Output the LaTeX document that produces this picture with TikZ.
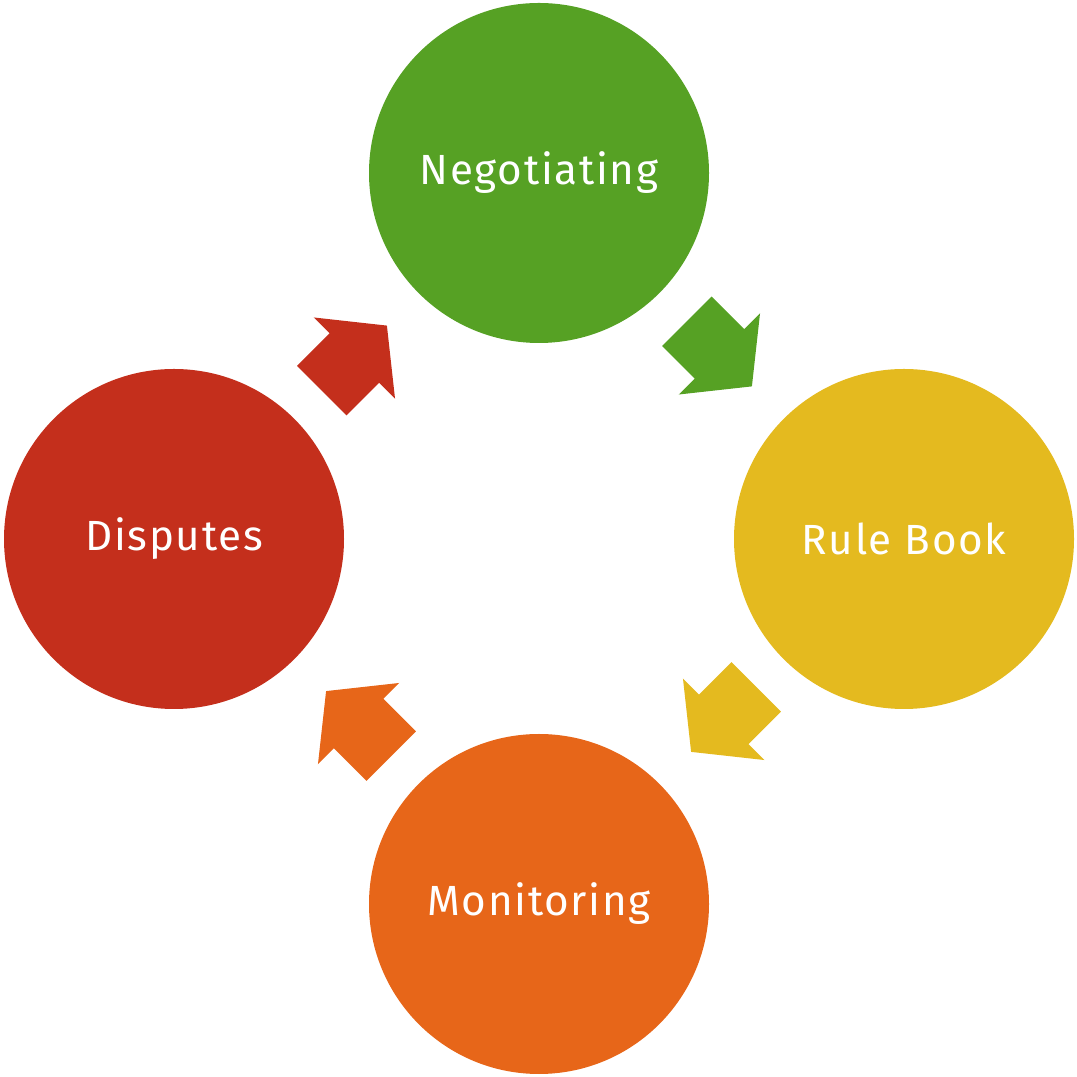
\documentclass[tikz,border=0pt]{standalone}
\usepackage{fontspec}
\setmainfont{Fira Sans}[LetterSpace=4]
\usepackage{tikz}
\usetikzlibrary{calc}

\definecolor{neggreen}{RGB}{86,161,36}
\definecolor{ruleyellow}{RGB}{228,186,31}
\definecolor{monorange}{RGB}{231,102,25}
\definecolor{disred}{RGB}{196,47,28}

% block arrow half way between two stages
\newcommand{\cyclearrow}[4]{%
   \fill[#1, shift={($(#2)!0.5!(#3)$)}, rotate=#4]
      (-0.49,-0.35) -- (-0.03,-0.35) -- (-0.03,-0.575) -- (0.43,0)
      -- (-0.03,0.575) -- (-0.03,0.35) -- (-0.49,0.35) -- cycle;}

\begin{document}
\begin{tikzpicture}[
   stage/.style={circle, minimum size=3.4cm, inner sep=0pt, text=white,
      font=\fontsize{12}{14}\selectfont}]
   \useasboundingbox (0,0) rectangle (10.76,10.77);

   \node[stage, fill=neggreen] (neg) at (5.39,9.04) {Negotiating};
   \node[stage, fill=ruleyellow] (rule) at (9.04,5.38) {Rule Book};
   \node[stage, fill=monorange] (mon) at (5.39,1.73) {Monitoring};
   \node[stage, fill=disred] (dis) at (1.74,5.38) {Disputes};

   \cyclearrow{neggreen}{neg}{rule}{-45}
   \cyclearrow{ruleyellow}{rule}{mon}{-135}
   \cyclearrow{monorange}{mon}{dis}{135}
   \cyclearrow{disred}{dis}{neg}{45}
\end{tikzpicture}
\end{document}
